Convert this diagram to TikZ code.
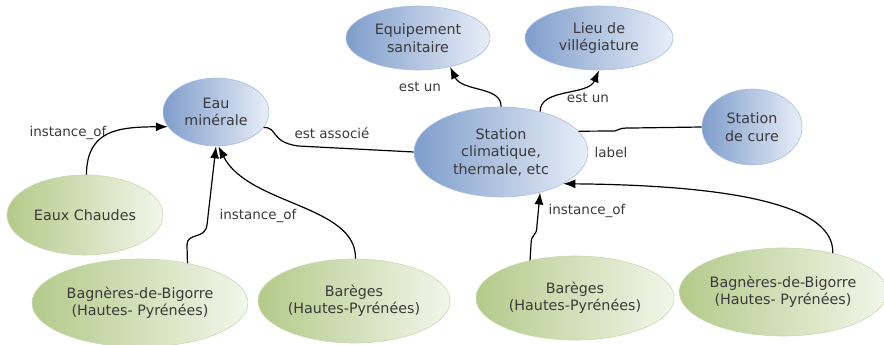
\documentclass[tikz,border=0pt]{standalone}
\usepackage{fontspec}
\setmainfont{DejaVu Sans}
\usetikzlibrary{shapes.geometric,arrows.meta}
\definecolor{bdark}{HTML}{7F9DCB}
\definecolor{blight}{HTML}{E8EEF8}
\definecolor{bline}{HTML}{A9BEDD}
\definecolor{gdark}{HTML}{B3CA8A}
\definecolor{glight}{HTML}{F2F6EA}
\definecolor{gline}{HTML}{C9D9AE}
\definecolor{txt}{HTML}{3A3A3A}
\tikzset{
  bnode/.style={ellipse, draw=bline, line width=0.6pt, left color=bdark, right color=blight, inner sep=0pt, align=center, text=txt, font=\fontsize{14.3}{17.5}\selectfont},
  gnode/.style={ellipse, draw=gline, line width=0.6pt, left color=gdark, right color=glight, inner sep=0pt, align=center, text=txt, font=\fontsize{14.3}{17.5}\selectfont},
  conn/.style={line width=1.2pt, black},
  arr/.style={conn, -{Latex[length=12pt,width=9pt]}},
  lbl/.style={text=txt, font=\fontsize{13.5}{16}\selectfont, inner sep=0pt}
}
\begin{document}
\begin{tikzpicture}[x=1pt,y=-1pt]
\useasboundingbox (0,0) rectangle (884,345);
% nodes
\node[bnode, minimum width=106pt, minimum height=68pt] (eau) at (216,112) {Eau\\minérale};
\node[bnode, minimum width=144pt, minimum height=64pt] (equip) at (418,38) {Equipement\\sanitaire};
\node[bnode, minimum width=148pt, minimum height=64pt] (lieu) at (599,38) {Lieu de\\villégiature};
\node[bnode, minimum width=174pt, minimum height=90pt] (station) at (501,152) {Station\\climatique,\\thermale, etc};
\node[bnode, minimum width=100pt, minimum height=76pt] (cure) at (752,127) {Station\\de cure};
\node[gnode, minimum width=156pt, minimum height=80pt] (eaux) at (85,215) {Eaux Chaudes};
\node[gnode, minimum width=216pt, minimum height=88pt] (bagL) at (140,303) {Bagnères-de-Bigorre\\(Hautes- Pyrénées)};
\node[gnode, minimum width=192pt, minimum height=84pt] (barL) at (354,301) {Barèges\\(Hautes-Pyrénées)};
\node[gnode, minimum width=198pt, minimum height=84pt] (barR) at (575,298) {Barèges\\(Hautes-Pyrénées)};
\node[gnode, minimum width=204pt, minimum height=88pt] (bagR) at (783,292) {Bagnères-de-Bigorre\\(Hautes- Pyrénées)};
% connectors
\draw[arr] (eaux.88) .. controls (87,130) and (118,127) .. (eau.197);
\draw[arr] (bagL.40) -- (187,245) .. controls (187,232) and (205,240) .. (207,225) -- (eau.south);
\draw[arr] (barL.88) .. controls (357,205) and (248,205) .. (eau.-86);
\draw[conn] (eau.342) .. controls (278,127) and (270,142) .. (298,146) -- (station.west);
\draw[arr] (station.north) .. controls (502,86) and (462,92) .. (equip.-42);
\draw[arr] (station.46) .. controls (540,88) and (588,96) .. (lieu.south);
\draw[conn] (station.15) -- (615,131) .. controls (622,128) .. (632,128) -- (cure.west);
\draw[arr] (barR.140) -- (531,245) .. controls (531,232) and (537,238) .. (537,225) -- (station.-46);
\draw[arr] (bagR.38) .. controls (835,198) and (700,185) .. (station.-27);
% labels
\node[lbl] (l1) at (68,133) {instance\_of};
\node[lbl] (l2) at (258,216) {instance\_of};
\node[lbl] (l3) at (332,133) {est associé};
\node[lbl] (l4) at (420,87) {est un};
\node[lbl] (l5) at (588,98) {est un};
\node[lbl] (l6) at (611,152) {label};
\node[lbl] (l7) at (587,211) {instance\_of};
\end{tikzpicture}
\end{document}
